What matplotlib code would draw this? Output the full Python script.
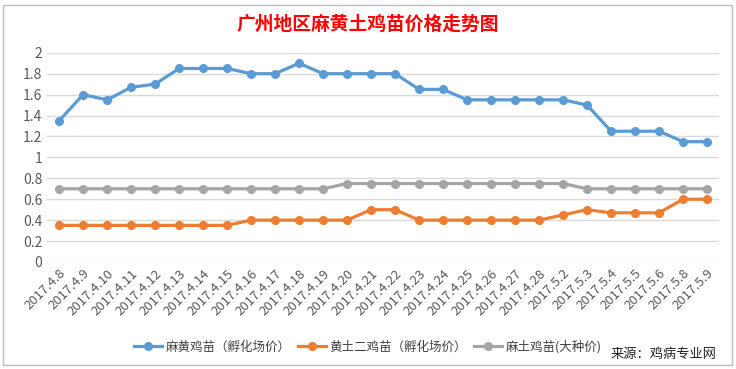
import matplotlib.pyplot as plt
from matplotlib.patches import Rectangle

plt.rcParams['font.family'] = ['Noto Sans CJK SC', 'DejaVu Sans']

# dates on the x axis
dates = ['2017.4.8', '2017.4.9', '2017.4.10', '2017.4.11', '2017.4.12', '2017.4.13',
         '2017.4.14', '2017.4.15', '2017.4.16', '2017.4.17', '2017.4.18', '2017.4.19',
         '2017.4.20', '2017.4.21', '2017.4.22', '2017.4.23', '2017.4.24', '2017.4.25',
         '2017.4.26', '2017.4.27', '2017.4.28', '2017.5.2', '2017.5.3', '2017.5.4',
         '2017.5.5', '2017.5.6', '2017.5.8', '2017.5.9']

# price series
mahuang = [1.35, 1.6, 1.55, 1.67, 1.7, 1.85, 1.85, 1.85, 1.8, 1.8, 1.9, 1.8,
           1.8, 1.8, 1.8, 1.65, 1.65, 1.55, 1.55, 1.55, 1.55, 1.55, 1.5, 1.25,
           1.25, 1.25, 1.15, 1.15]
huangtu = [0.35, 0.35, 0.35, 0.35, 0.35, 0.35, 0.35, 0.35, 0.4, 0.4, 0.4, 0.4,
           0.4, 0.5, 0.5, 0.4, 0.4, 0.4, 0.4, 0.4, 0.4, 0.45, 0.5, 0.47,
           0.47, 0.47, 0.6, 0.6]
matu = [0.7, 0.7, 0.7, 0.7, 0.7, 0.7, 0.7, 0.7, 0.7, 0.7, 0.7, 0.7,
        0.75, 0.75, 0.75, 0.75, 0.75, 0.75, 0.75, 0.75, 0.75, 0.75, 0.7, 0.7,
        0.7, 0.7, 0.7, 0.7]

labels = ['麻黄鸡苗（孵化场价）', '黄土二鸡苗（孵化场价）', '麻土鸡苗(大种价)']
colors = ['#5B9BD5', '#ED7D31', '#A5A5A5']

fig = plt.figure(figsize=(7.36, 3.69), dpi=100)
ax = fig.add_axes([0.064, 0.29, 0.913, 0.567])

x = range(len(dates))
for vals, lab, col in zip([mahuang, huangtu, matu], labels, colors):
    ax.plot(x, vals, color=col, lw=2.3, marker='o', markersize=5.5, label=lab)

ax.set_xlim(-0.5, len(dates) - 0.5)
ax.set_ylim(0, 2)
ax.set_yticks([i / 10 for i in range(0, 21, 2)])
ax.set_yticklabels(['0', '0.2', '0.4', '0.6', '0.8', '1', '1.2', '1.4', '1.6', '1.8', '2'])
ax.set_xticks(list(x))
ax.set_xticklabels(dates, rotation=45, ha='right', rotation_mode='anchor')
ax.tick_params(colors='#595959', labelsize=9.5, length=0)
ax.tick_params(axis='y', labelsize=10)
ax.grid(axis='y', color='#D9D9D9', lw=1)
ax.set_axisbelow(True)
for s in ax.spines.values():
    s.set_visible(False)

fig.text(0.5, 0.935, '广州地区麻黄土鸡苗价格走势图', color='red', fontsize=13.5,
         fontweight='bold', ha='center', va='center')

fig.legend(loc='center', bbox_to_anchor=(0.5, 0.06), ncol=3, frameon=False,
           fontsize=9, handlelength=2.2, handletextpad=0.3, columnspacing=0.6,
           labelcolor='#404040')

fig.text(0.973, 0.038, '来源：鸡病专业网', fontsize=9.5, ha='right', va='center',
         color='#222222')

fig.patches.append(Rectangle((0.004, 0.012), 0.99, 0.975, transform=fig.transFigure,
                             fill=False, edgecolor='#BFBFBF', lw=1))

fig.savefig('out.png', dpi=100)
